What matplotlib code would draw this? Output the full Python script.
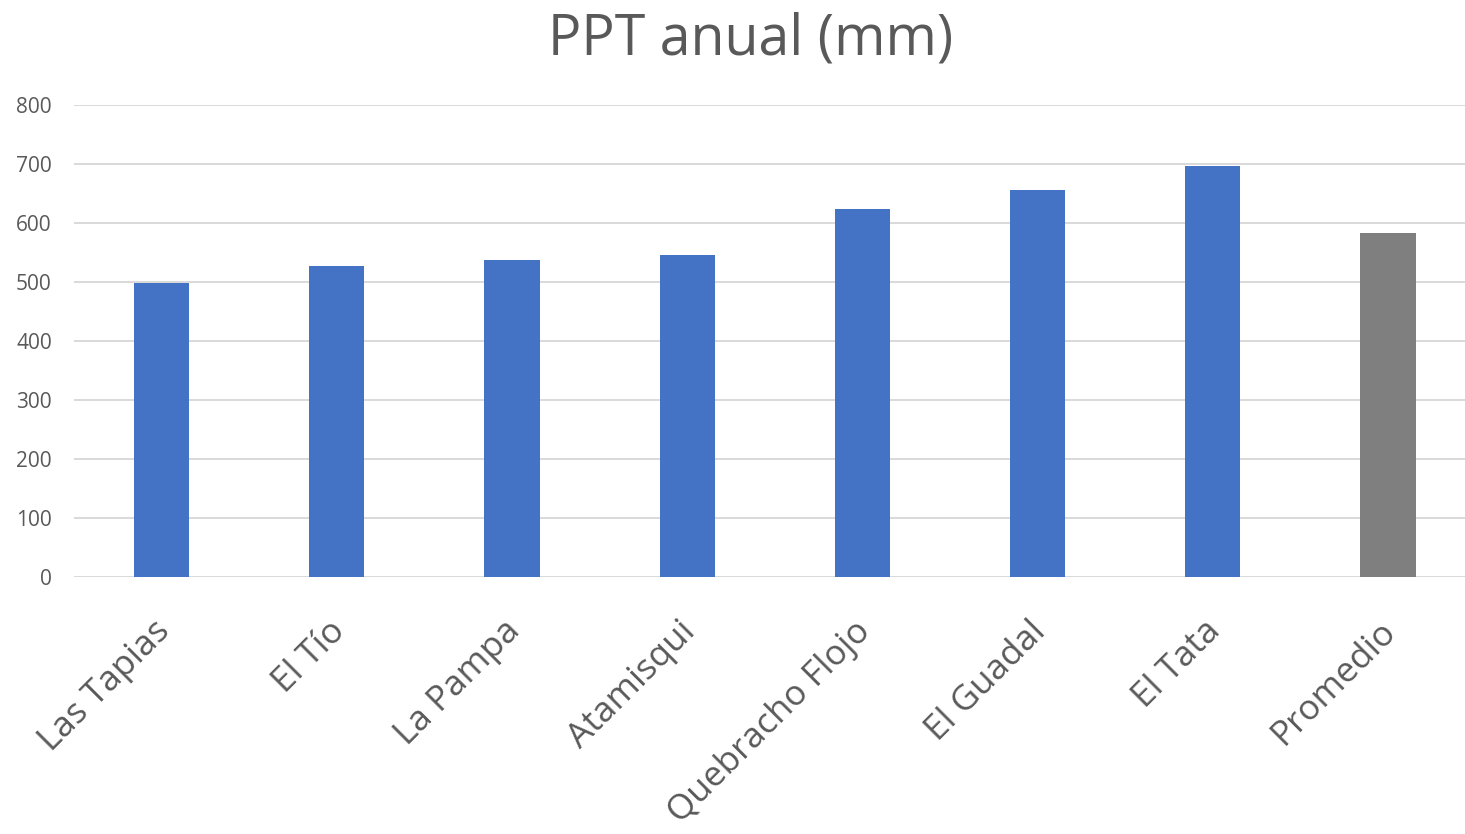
import matplotlib.pyplot as plt
from matplotlib.transforms import ScaledTranslation

estaciones = ["Las Tapias", "El Tío", "La Pampa", "Atamisqui",
              "Quebracho Flojo", "El Guadal", "El Tata", "Promedio"]
ppt = [498, 527, 536, 545, 624, 655, 696, 583]
colores = ["#4472C4"] * 7 + ["#7F7F7F"]
y_ticks = [0, 100, 200, 300, 400, 500, 600, 700, 800]

plt.rcParams['font.family'] = ['Open Sans', 'DejaVu Sans']

fig = plt.figure(figsize=(14.65, 8.34), dpi=100)
ax = fig.add_axes([74 / 1465, 1 - 576.7 / 834, 1 - 74 / 1465, (576.7 - 104.7) / 834])

x = list(range(len(estaciones)))
ax.bar(x, ppt, width=0.315, color=colores, zorder=3)

ax.set_ylim(0, 800)
ax.set_xlim(-0.5, 7.44)
ax.set_yticks(y_ticks)
ax.set_yticklabels([str(v) for v in y_ticks])
ax.set_xticks(x)
ax.set_xticklabels(estaciones, rotation=45, ha='right', rotation_mode='anchor')

ax.grid(axis='y', color='#d9d9d9', linewidth=1.4, zorder=0)
for s in ax.spines.values():
    s.set_visible(False)
ax.tick_params(axis='both', length=0, colors='#595959')
ax.tick_params(axis='y', labelsize=15, pad=16)
ax.tick_params(axis='x', labelsize=25.3, pad=22)

# mover las etiquetas un poco abajo a la izquierda
offset = ScaledTranslation(-9 / 100, -7 / 100, fig.dpi_scale_trans)
for lbl in ax.get_xticklabels():
    lbl.set_transform(lbl.get_transform() + offset)

fig.text(751 / 1465, 1 - 40 / 834, "PPT anual (mm)", ha='center', va='center',
         fontsize=40, color='#595959')

fig.savefig("out.png", dpi=100)
